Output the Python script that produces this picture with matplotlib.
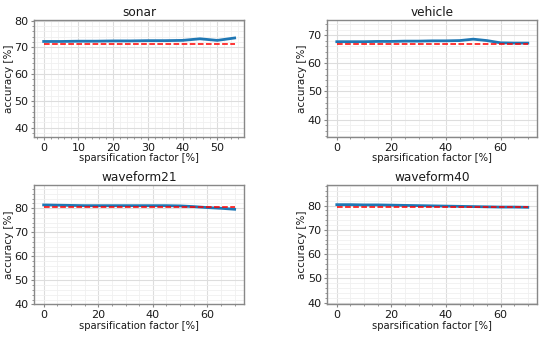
import matplotlib
matplotlib.use("Agg")
import matplotlib.pyplot as plt
from matplotlib.ticker import AutoMinorLocator, MultipleLocator

# sparsification factor [%] and accuracy [%] per dataset
sonar_x = [0, 5, 10, 15, 20, 25, 30, 35, 40, 45, 50, 55]
sonar_acc = [72.2, 72.2, 72.3, 72.3, 72.4, 72.4, 72.5, 72.5, 72.6, 73.2, 72.6, 73.5]
sonar_base = 71.3

vehicle_x = [0, 5, 10, 15, 20, 25, 30, 35, 40, 45, 50, 55, 60, 65, 70]
vehicle_acc = [67.7, 67.7, 67.7, 67.8, 67.8, 67.9, 67.9, 68.0, 68.0, 68.1, 68.6, 68.1, 67.3, 67.2, 67.2]
vehicle_base = 66.8

wave21_x = [0, 5, 10, 15, 20, 25, 30, 35, 40, 45, 50, 55, 60, 65, 70]
wave21_acc = [81.4, 81.3, 81.2, 81.1, 81.1, 81.1, 81.1, 81.1, 81.1, 81.1, 81.0, 80.7, 80.3, 80.0, 79.6]
wave21_base = 80.4

wave40_x = [0, 5, 10, 15, 20, 25, 30, 35, 40, 45, 50, 55, 60, 65, 70]
wave40_acc = [80.4, 80.4, 80.3, 80.3, 80.2, 80.1, 80.0, 79.9, 79.8, 79.7, 79.6, 79.5, 79.4, 79.4, 79.3]
wave40_base = 79.3

panels = [
    ("sonar", sonar_x, sonar_acc, sonar_base, (36.5, 80.2), 10, [0.062, 0.5935, 0.382, 0.347]),
    ("vehicle", vehicle_x, vehicle_acc, vehicle_base, (33.8, 75.4), 20, [0.595, 0.5935, 0.382, 0.347]),
    ("waveform21", wave21_x, wave21_acc, wave21_base, (40, 89.7), 20, [0.062, 0.097, 0.382, 0.354]),
    ("waveform40", wave40_x, wave40_acc, wave40_base, (39.3, 88.5), 20, [0.595, 0.097, 0.382, 0.354]),
]

fig = plt.figure(figsize=(5.5, 3.37), dpi=100)

for title, x, acc, base, ylim, xstep, pos in panels:
    ax = fig.add_axes(pos)
    ax.plot(x, acc, color="#1f77b4", lw=2.0, zorder=3)
    ax.plot(x, [base] * len(x), color="red", ls="--", lw=1.1, zorder=4)
    ax.set_ylim(*ylim)
    ax.xaxis.set_major_locator(MultipleLocator(xstep))
    ax.yaxis.set_major_locator(MultipleLocator(10))
    ax.xaxis.set_minor_locator(AutoMinorLocator())
    ax.yaxis.set_minor_locator(AutoMinorLocator())
    ax.grid(which="major", color="#dddddd", lw=0.8)
    ax.grid(which="minor", color="#f0f0f0", lw=0.6)
    ax.set_axisbelow(True)
    for s in ax.spines.values():
        s.set_color("#888888")
        s.set_linewidth(1.0)
    ax.tick_params(which="both", colors="#888888", labelcolor="#1a1a1a", labelsize=8, pad=2)
    ax.tick_params(which="major", length=2)
    ax.tick_params(which="minor", length=1.2)
    ax.set_title(title, fontsize=8.7, color="#1a1a1a", pad=3)
    ax.set_xlabel("sparsification factor [%]", fontsize=7.2, color="#1a1a1a", labelpad=0.5)
    ax.set_ylabel("accuracy [%]", fontsize=7.5, color="#1a1a1a", labelpad=0.5)

fig.savefig("out.png", dpi=100)
